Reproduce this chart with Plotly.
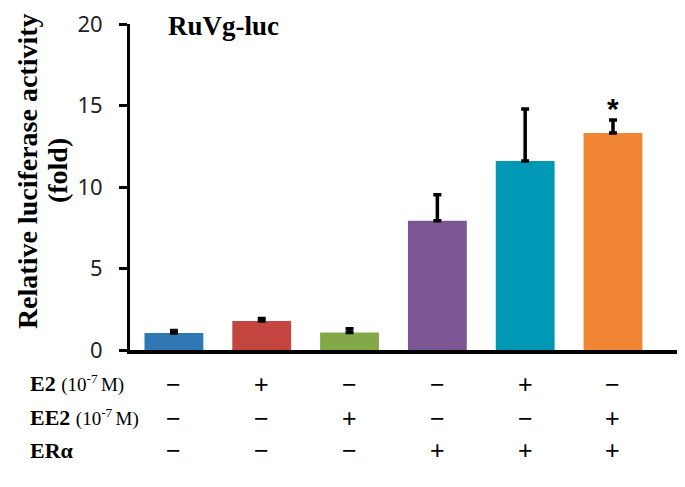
import plotly.graph_objects as go

groups = ["1", "2", "3", "4", "5", "6"]
values = [1.04, 1.78, 1.08, 7.93, 11.59, 13.31]
errors = [0.15, 0.15, 0.22, 1.6, 3.2, 0.8]
colors = ["#2f78b4", "#c4443f", "#82a848", "#7a5694", "#0098b4", "#f08535"]
row_labels = ["<b>E2</b> <span style='font-size:19px'>(10<sup>-7 </sup>M)</span>",
              "<b>EE2</b> <span style='font-size:19px'>(10<sup>-7 </sup>M)</span>",
              "<b>ERα</b>"]
e2 = ["−", "+", "−", "−", "+", "−"]
ee2 = ["−", "−", "+", "−", "−", "+"]
era = ["−", "−", "−", "+", "+", "+"]
signif = ["", "", "", "", "", "*"]
ytitle_lines = ["Relative luciferase activity", "(fold)"]
ytick_vals = [0, 5, 10, 15, 20]

# page body has an 8px margin; compensate so the chart sits at the reference position
OFF = 8
W, H = 685 - OFF, 487 - OFF
L, R, T, B = 130 - OFF, 0, 22 - OFF, 137
plot_h = H - T - B
plot_w = W - L - R

def px_x(x):  # reference page px -> paper x
    return (x - 130) / plot_w

def px_y(y):  # reference page px -> paper y
    return (350 - y) / plot_h

xs = list(range(len(groups)))
fig = go.Figure()
fig.add_trace(go.Bar(
    x=xs, y=values, marker=dict(color=colors, line=dict(width=0)),
    error_y=dict(type="data", array=errors, symmetric=False, arrayminus=[0] * 6,
                 color="black", thickness=3.5, width=4, visible=True),
    width=0.67,
))

fig.update_layout(
    width=W, height=H, margin=dict(l=L, r=R, t=T, b=B),
    plot_bgcolor="white", paper_bgcolor="white", showlegend=False,
    font=dict(family="Noto Sans", color="black"),
)
fig.update_xaxes(range=[-0.5, 5.82], showline=True, linecolor="black", linewidth=4,
                 showticklabels=False, ticks="", showgrid=False, zeroline=False)
fig.update_yaxes(range=[0, 20], tickvals=ytick_vals, showline=True,
                 linecolor="black", linewidth=3, ticks="outside", ticklen=8,
                 tickwidth=3, tickcolor="black", showgrid=False, zeroline=False,
                 tickfont=dict(family="Noto Sans", size=22, color="#222"),
                 ticklabelstandoff=12, ticklabeloverflow="allow")

ann = []
# y-axis title (two centred lines)
for cx, line in zip([27, 57], ytitle_lines):
    ann.append(dict(xref="paper", yref="paper", x=px_x(cx), y=px_y(170),
                    text="<b>" + line + "</b>", textangle=-90, borderpad=0,
                    showarrow=False, xanchor="center", yanchor="middle",
                    font=dict(family="Liberation Serif", size=28, color="black")))
# panel title
ann.append(dict(xref="paper", yref="paper", x=px_x(166), y=px_y(24),
                text="<b>RuVg-luc</b>", showarrow=False, xanchor="left", yanchor="middle",
                font=dict(family="Liberation Serif", size=27, color="black")))
# significance
for i, s in enumerate(signif):
    if s:
        ann.append(dict(xref="x", yref="y", x=xs[i], y=values[i] + errors[i],
                        text="<b>" + s + "</b>",
                        showarrow=False, yanchor="bottom", yshift=-7,
                        font=dict(family="Liberation Sans", size=30, color="black")))
# treatment table
row_y = [384, 418, 451]
for r, (lab, syms) in enumerate(zip(row_labels, [e2, ee2, era])):
    yp = px_y(row_y[r])
    ann.append(dict(xref="paper", yref="paper", x=px_x(29), y=yp, text=lab,
                    showarrow=False, xanchor="left", yanchor="middle",
                    borderpad=0,
                    font=dict(family="Liberation Serif", size=22, color="black")))
    for i, s in enumerate(syms):
        ann.append(dict(xref="x", yref="paper", x=xs[i], y=yp, text=s,
                        showarrow=False, xanchor="center", yanchor="middle",
                        borderpad=0,
                        font=dict(family="Liberation Sans", size=25, color="black")))
fig.update_layout(annotations=ann)
fig.write_html("out.html")
